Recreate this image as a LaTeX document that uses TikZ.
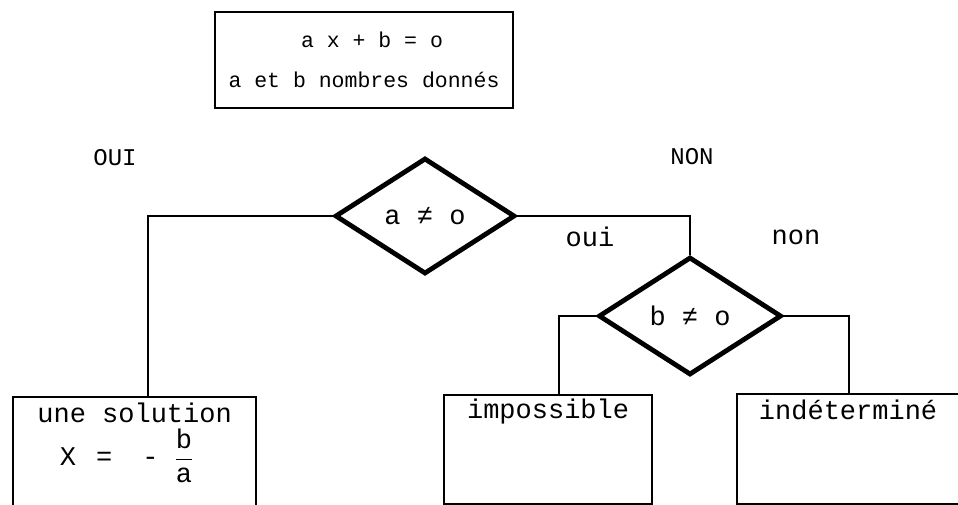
\documentclass[tikz,border=0pt]{standalone}
\usepackage{fontspec}
\setmainfont{Liberation Mono}
\usetikzlibrary{shapes.geometric}

\begin{document}
\begin{tikzpicture}[x=1pt, y=-1pt,
    every node/.style={font=\fontsize{27}{32}\selectfont},
    decision/.style={diamond, draw, line width=4.8pt, inner sep=0pt},
    answer/.style={draw, line width=2.2pt, inner sep=0pt, anchor=north west},
    link/.style={line width=2.2pt}]
  \clip (0,0) rectangle (958,505);
  \node[draw, line width=2pt, minimum width=298pt, minimum height=96pt, align=center,
        font=\fontsize{21.5}{40}\selectfont] (eq) at (364,60) {\hspace{16pt}a x + b = o\\a et b nombres donnés};

  \node[decision, minimum width=180pt, minimum height=116pt] (d1) at (425,216) {a ≠ o};
  \node[decision, minimum width=183pt, minimum height=118pt] (d2) at (690,316) {b ≠ o};

  \node[font=\fontsize{24}{28}\selectfont] (OUI) at (115,158) {OUI};
  \node[font=\fontsize{24}{28}\selectfont] (NON) at (692,157) {NON};
  \node (oui) at (590,237) {oui};
  \node (non) at (796,237) {non};

  \node[answer, minimum width=243pt, minimum height=140pt] (sol) at (12,396) {};
  \node[answer, minimum width=208pt, minimum height=109pt] (imp) at (443,394) {};
  \node[answer, minimum width=240pt, minimum height=110pt] (ind) at (736,393) {};
  \node (solt) at ([yshift=-17pt]sol.north) {une solution};
  \node (solf) at ([xshift=-8pt, yshift=-60pt]sol.north)
    {X\hspace{20pt}=\hspace{30pt}-\hspace{16pt}$\displaystyle\frac{\mbox{b}}{\mbox{a}}$};
  \node (impt) at ([yshift=-18pt]imp.north) {impossible};
  \node (indt) at ([xshift=-9pt, yshift=-17pt]ind.north) {indéterminé};

  \draw[link] (d1.west) -| ([xshift=13.5pt]sol.north);
  \draw[link] (d1.east) -| (d2.north);
  \draw[link] (d2.west) -| ([xshift=11pt]imp.north);
  \draw[link] (d2.east) -| ([xshift=-8pt]ind.north);
\end{tikzpicture}
\end{document}
